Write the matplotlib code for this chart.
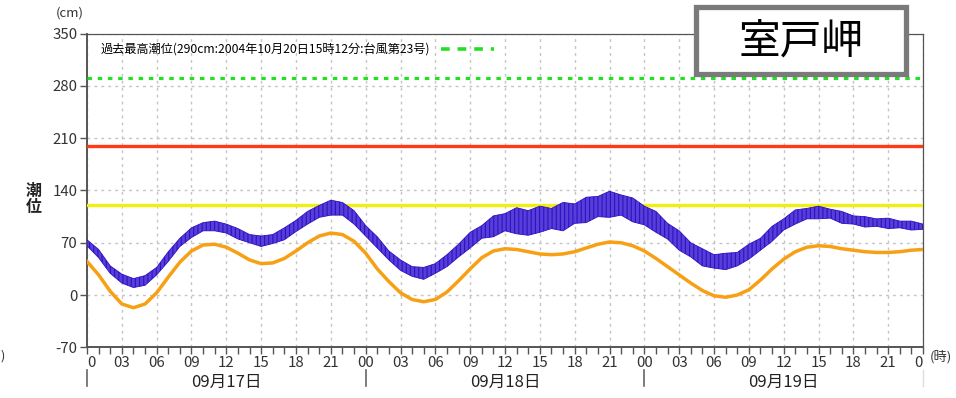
import matplotlib
matplotlib.use("Agg")
import matplotlib.pyplot as plt
import matplotlib.patches as patches
import matplotlib.transforms as mtransforms
from matplotlib.lines import Line2D

plt.rcParams['font.family'] = ['Noto Sans CJK JP', 'DejaVu Sans']
plt.rcParams['axes.unicode_minus'] = False
plt.rcParams['hatch.linewidth'] = 0.8

station = "室戸岬"
days = ["09月17日", "09月18日", "09月19日"]
hours = list(range(73))  # hours since 09/17 00:00

# astronomical tide (cm), hourly
tide_pred = [45, 27, 5, -12, -17, -12, 3, 24, 44, 59, 67, 68, 64, 56, 47, 42, 43, 49, 59, 70, 79, 83, 81, 72,
             56, 35, 18, 3, -6, -9, -6, 4, 19, 35, 50, 59, 62, 61, 58, 55, 54, 55, 58, 63, 68, 71, 70, 66,
             59, 49, 38, 27, 16, 6, -1, -3, 0, 7, 20, 35, 48, 58, 64, 66, 65, 62, 60, 58, 57, 57, 58, 60, 61]

# observed tide (cm), hourly lower / upper edge of the noisy trace
obs_low = [66, 50, 29, 16, 10, 13, 27, 45, 65, 77, 86, 86, 83, 75, 70, 65, 69, 74, 85, 95, 104, 107, 107, 95,
           79, 63, 47, 33, 25, 21, 29, 38, 51, 63, 76, 78, 86, 82, 80, 84, 89, 86, 96, 97, 105, 104, 107, 98,
           94, 84, 75, 60, 51, 39, 36, 34, 39, 48, 60, 72, 87, 95, 102, 102, 103, 96, 95, 91, 92, 89, 90, 87, 88]
obs_high = [74, 61, 39, 28, 22, 26, 37, 58, 76, 90, 97, 99, 95, 89, 81, 79, 81, 90, 100, 112, 120, 127, 124, 113,
            93, 78, 59, 47, 38, 37, 42, 54, 68, 84, 93, 106, 109, 117, 113, 119, 116, 124, 122, 131, 132, 139, 134, 130,
            119, 112, 96, 86, 70, 62, 54, 56, 57, 68, 76, 92, 102, 114, 116, 119, 115, 112, 106, 105, 102, 103, 99, 99, 95]

record_level = 290
warning_level = 200
advisory_level = 120
record_label = "過去最高潮位(290cm:2004年10月20日15時12分:台風第23号)"

y_ticks = [-70, 0, 70, 140, 210, 280, 350]
x_ticks = list(range(0, 73, 3))
x_labels = ["0", "03", "06", "09", "12", "15", "18", "21",
            "00", "03", "06", "09", "12", "15", "18", "21",
            "00", "03", "06", "09", "12", "15", "18", "21", "0"]

fig = plt.figure(figsize=(9.56, 3.98), dpi=100)
ax = fig.add_axes([0.091, 0.1274, 0.8745, 0.788])

ax.set_xlim(0, 72)
ax.set_ylim(-70, 350)

# grid
ax.set_yticks(y_ticks)
ax.set_xticks(x_ticks)
ax.set_xticks(hours, minor=True)
ax.grid(which="major", color="#c4c4c4", linestyle=(0, (2, 3)), linewidth=1)
ax.set_axisbelow(True)

# reference levels
ax.axhline(record_level, color="#22e022", linewidth=2.3, linestyle=(0, (1.4, 1.8)), zorder=3)
ax.axhline(warning_level, color="#ff3a14", linewidth=2.4, zorder=3)
ax.axhline(advisory_level, color="#f2ee10", linewidth=2.4, zorder=3)

# tide curves
ax.plot(hours, tide_pred, color="#f7a014", linewidth=2.5, zorder=4)
ax.fill_between(hours, obs_low, obs_high, facecolor="#563ed9", edgecolor="#3010c2",
                hatch="||||", linewidth=0.6, zorder=5)

# legend for the record level
handle = Line2D([], [], color="#22e022", linewidth=2.6, linestyle=(0, (2.4, 2.2)))
ax.legend([handle], [record_label], loc="upper left", frameon=False, markerfirst=False,
          handlelength=4.4, handletextpad=0.9, fontsize=8.75, borderaxespad=0.3,
          bbox_to_anchor=(0.006, 0.997))

# axes style
for side in ["left", "bottom", "top", "right"]:
    ax.spines[side].set_color("#555555")
ax.spines["left"].set_linewidth(1.4)
ax.spines["bottom"].set_linewidth(1.4)
ax.spines["top"].set_linewidth(0.9)
ax.spines["right"].set_linewidth(0.9)
ax.tick_params(axis="y", which="major", length=5, width=1, color="#555555",
               labelsize=10.8, labelcolor="#333333", pad=2)
ax.tick_params(axis="x", which="both", length=5, width=1, color="#555555",
               labelsize=10.8, labelcolor="#333333", pad=1)
ax.set_xticklabels(x_labels)
tick_texts = ax.get_xticklabels()
tick_texts[0].set_ha("left")
tick_texts[-1].set_ha("right")

# day labels and separators under the hour labels
trans = mtransforms.blended_transform_factory(ax.transData, ax.transAxes)
for i, day in enumerate(days):
    ax.text(24 * i + 12, -0.112, day, transform=trans, ha="center", va="center",
            fontsize=12, color="#222222")
    ax.plot([24 * i, 24 * i], [-0.072, -0.125], transform=trans, color="#666666",
            linewidth=1.2, clip_on=False)
ax.plot([72, 72], [-0.072, -0.125], transform=trans, color="#dddddd",
        linewidth=1.0, clip_on=False)

# outside texts
fig.text(0.073, 0.967, "(cm)", ha="center", va="center", fontsize=9.5, color="#333333")
fig.text(0.984, 0.103, "(時)", ha="center", va="center", fontsize=9.5, color="#333333")
fig.text(0.035, 0.5, "潮\n位", ha="center", va="center", fontsize=11.5,
         fontweight="bold", linespacing=1.0, color="#222222")
fig.text(0.0, 0.105, ")", ha="left", va="center", fontsize=9, color="#333333")

# station name box
box = patches.Rectangle((696 / 956, 1 - 74 / 398), 210 / 956, 67 / 398,
                        transform=fig.transFigure, facecolor="white", edgecolor="#7a7a7a",
                        linewidth=3.8, zorder=10)
fig.patches.append(box)
fig.text(801 / 956, 1 - 42 / 398, station, ha="center", va="center", fontsize=30,
         color="black", zorder=11)

fig.savefig("out.png", dpi=100)
